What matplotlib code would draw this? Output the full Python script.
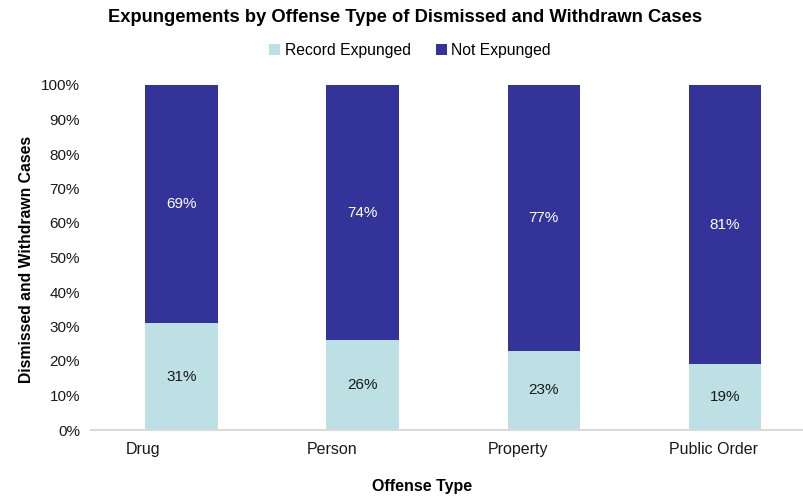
import matplotlib
matplotlib.use("Agg")
import matplotlib.pyplot as plt
import numpy as np

plt.rcParams['font.family'] = ['Liberation Sans', 'DejaVu Sans']

offense_types = ["Drug", "Person", "Property", "Public Order"]
record_expunged = [31, 26, 23, 19]
not_expunged = [69, 74, 77, 81]
series_names = ["Record Expunged", "Not Expunged"]
y_ticks = [0, 10, 20, 30, 40, 50, 60, 70, 80, 90, 100]

light = "#bce0e3"
dark = "#343399"

fig = plt.figure(figsize=(8.04, 4.97), dpi=100)
ax = fig.add_axes([91 / 804, 67 / 497, 724.5 / 804, 345 / 497])

x = np.arange(len(offense_types))
b1 = ax.bar(x, record_expunged, width=0.4, color=light, label=series_names[0])
b2 = ax.bar(x, not_expunged, width=0.4, bottom=record_expunged, color=dark,
            label=series_names[1])

for i in range(len(x)):
    ax.text(x[i], record_expunged[i] / 2, f"{record_expunged[i]}%",
            ha="center", va="center", fontsize=11, color="#1a1a1a")
    ax.text(x[i], record_expunged[i] + not_expunged[i] / 2, f"{not_expunged[i]}%",
            ha="center", va="center", fontsize=11, color="white")

ax.set_xlim(-0.5, 3.5)
ax.set_ylim(0, 100)
ax.set_yticks(y_ticks)
ax.set_yticklabels([f"{t}%" for t in y_ticks])
ax.set_xticks([])
ax.tick_params(length=0, labelsize=11, colors="#1a1a1a")
ax.tick_params(axis="y", pad=8)

# category labels sit a bit left of the bar centres
for i in range(len(x)):
    ax.text(x[i] - 0.31, -5.7, offense_types[i], ha="left", va="center",
            fontsize=11.5, color="#1a1a1a")

for s in ["top", "right", "left"]:
    ax.spines[s].set_visible(False)
ax.spines["bottom"].set_color("#d9d9d9")
ax.spines["bottom"].set_linewidth(1.5)

fig.text(27 / 804, 1 - 259 / 497, "Dismissed and Withdrawn Cases", rotation=90,
         ha="center", va="center", fontsize=11.3, fontweight="bold")
fig.text(422 / 804, 1 - 487 / 497, "Offense Type", ha="center", va="center",
         fontsize=11.5, fontweight="bold")
fig.text(405 / 804, 1 - 18 / 497,
         "Expungements by Offense Type of Dismissed and Withdrawn Cases",
         ha="center", va="center", fontsize=13.2, fontweight="bold")

fig.legend(handles=[b1, b2], loc="center", bbox_to_anchor=(410 / 804, 1 - 50 / 497),
           ncol=2, frameon=False, fontsize=11.3, handlelength=0.7, handleheight=0.7,
           handletextpad=0.3, columnspacing=1.6)

fig.savefig("out.png", dpi=100)
